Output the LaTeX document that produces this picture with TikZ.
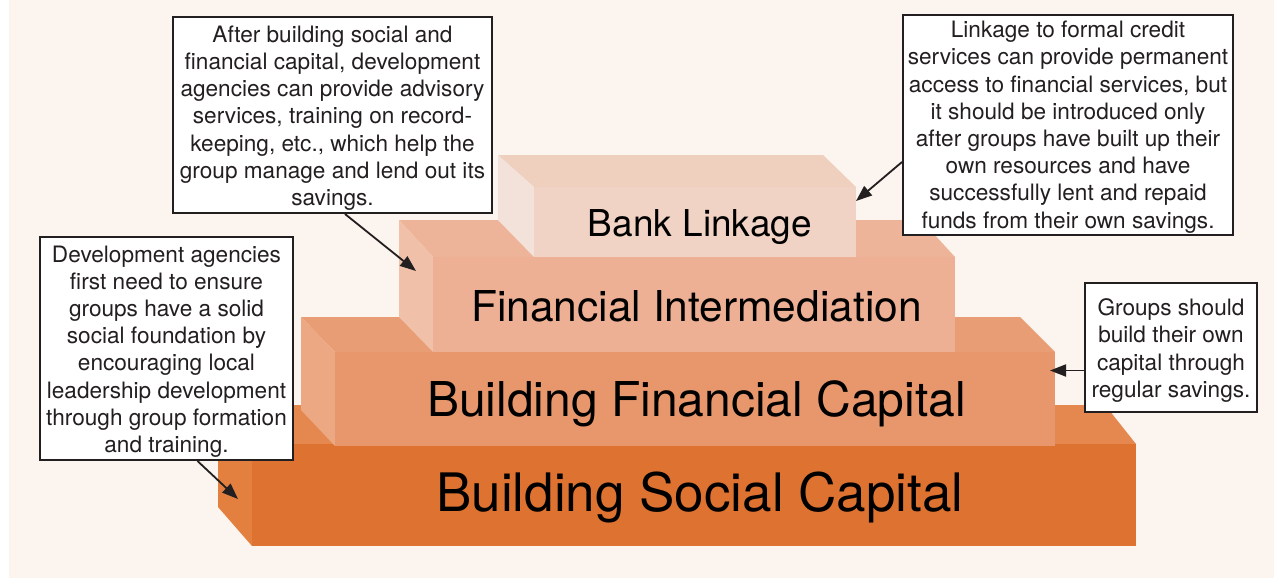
\documentclass[tikz,border=0pt]{standalone}
\usepackage{fontspec}
\setmainfont{TeX Gyre Heros}
\usetikzlibrary{arrows.meta}
\definecolor{bg}{HTML}{FCF4EE}
\definecolor{ink}{HTML}{231F20}
\definecolor{aFront}{HTML}{DE7230}
\definecolor{aSide}{HTML}{E38040}
\definecolor{aTop}{HTML}{E4884F}
\definecolor{bFront}{HTML}{E8976C}
\definecolor{bSide}{HTML}{ECA883}
\definecolor{bTop}{HTML}{E89D74}
\definecolor{cFront}{HTML}{EDB094}
\definecolor{cSide}{HTML}{F0C0A8}
\definecolor{cTop}{HTML}{EDB499}
\definecolor{dFront}{HTML}{F0D3C4}
\definecolor{dSide}{HTML}{F3E2D9}
\definecolor{dTop}{HTML}{EFCFBE}
\begin{document}
\begin{tikzpicture}[x=1pt,y=-1pt,
  note/.style={draw=ink, line width=2pt, fill=white, inner sep=0pt, align=center,
    font=\fontsize{22.6}{27.2}\selectfont, text=ink},
  callout/.style={draw=ink, line width=1.8pt, -{Triangle[length=16pt,width=12pt]}},
  lab/.style={anchor=base, inner sep=0pt, text=black}]
\useasboundingbox (0,0) rectangle (1274,578);
\fill[white] (0,0) rectangle (1274,578);
\fill[bg] (9,0) rectangle (1274,578);

% Block 1: Building Social Capital
\fill[aTop] (218,405) -- (1105,405) -- (1136,444) -- (252,444) -- cycle;
\fill[aSide] (218,405) -- (252,444) -- (252,546) -- (218,507) -- cycle;
\fill[aFront] (252,444) rectangle (1136,546);

% Block 2: Building Financial Capital
\fill[bTop] (301,317) -- (1020,317) -- (1055,352) -- (335,352) -- cycle;
\fill[bSide] (301,317) -- (335,352) -- (335,446) -- (301,410) -- cycle;
\fill[bFront] (335,352) rectangle (1055,446);

% Block 3: Financial Intermediation
\fill[cTop] (399,220) -- (921,220) -- (955,257) -- (433,257) -- cycle;
\fill[cSide] (399,220) -- (433,257) -- (433,352) -- (399,317) -- cycle;
\fill[cFront] (433,257) rectangle (955,352);

% Block 4: Bank Linkage
\fill[dTop] (498,155) -- (823,155) -- (856,187) -- (534,187) -- cycle;
\fill[dSide] (498,155) -- (534,187) -- (534,257) -- (498,220) -- cycle;
\fill[dFront] (534,187) rectangle (856,257);

% Labels
\node[lab, font=\fontsize{37}{40}\selectfont] (l4) at (700,236.5) {Bank Linkage};
\node[lab, font=\fontsize{42.5}{46}\selectfont] (l3) at (696.5,321.5) {Financial Intermediation};
\node[lab, font=\fontsize{48}{52}\selectfont] (l2) at (696.5,416.5) {Building Financial Capital};
\node[lab, font=\fontsize{53}{56}\selectfont] (l1) at (700,511.5) {Building Social Capital};

% Notes (frames)
\node[note, minimum width=319pt, minimum height=196pt] (nA) at (332.5,115) {};
\node[note, minimum width=330pt, minimum height=220pt] (nB) at (1068,125) {};
\node[note, minimum width=253pt, minimum height=223pt] (nC) at (166.5,348.5) {};
\node[note, minimum width=172pt, minimum height=129pt] (nD) at (1171,347.5) {};

% Note texts
\node[note, draw=none, fill=none] (tAtext) at ([yshift=-3pt]nA.center)
  {After building social and\\ financial capital, development\\ agencies can provide advisory\\
   services, training on record-\\ keeping, etc., which help the\\ group manage and lend out its\\ savings.};
\node[note, draw=none, fill=none] (tBtext) at ([yshift=-2pt]nB.center)
  {Linkage to formal credit\\ services can provide permanent\\ access to financial services, but\\
   it should be introduced only\\ after groups have built up their\\ own resources and have\\
   successfully lent and repaid\\ funds from their own savings.};
\node[note, draw=none, fill=none] (tCtext) at ([yshift=-3pt]nC.center)
  {Development agencies\\ first need to ensure\\ groups have a solid\\ social foundation by\\
   encouraging local\\ leadership development\\ through group formation\\ and training.};
\node[note, draw=none, fill=none] (tDtext) at ([yshift=-3pt]nD.center)
  {Groups should\\ build their own\\ capital through\\ regular savings.};

% Arrow targets
\coordinate (tA) at (416,271);
\coordinate (tB) at (856,201);
\coordinate (tC) at (238,499);
\coordinate (tD) at (1050,370.5);

\draw[callout] ([xshift=12.5pt]nA.south) -- (tA);
\draw[callout] ([yshift=-37pt]nB.west) -- (tB);
\draw[callout] ([xshift=31pt]nC.south) -- (tC);
\draw[callout] ([yshift=-23pt]nD.west) -- (tD);
\end{tikzpicture}
\end{document}
